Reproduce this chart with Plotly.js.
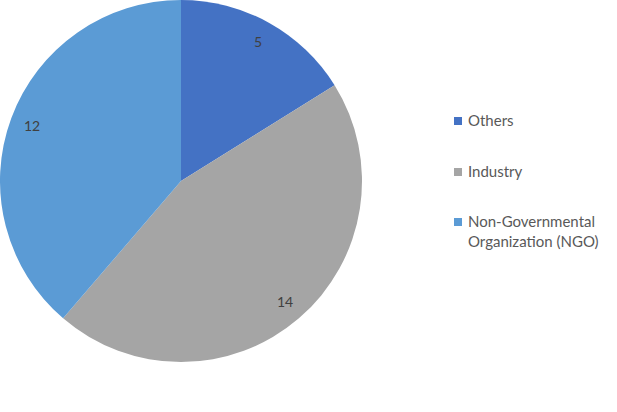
<!DOCTYPE html>
<html>
<head>
<meta charset="utf-8">
<script src="https://cdn.plot.ly/plotly-3.0.1.min.js"></script>
<style>
  html, body { margin: 0; padding: 0; background: #fff; }
  #chart { width: 617px; height: 412px; }
</style>
</head>
<body>
<div id="chart"></div>
<script>
var labels = ['Others', 'Industry', 'Non-Governmental<br>Organization (NGO)'];
var counts = [5, 14, 12];
var colors = ['#4472C4', '#A5A5A5', '#5B9BD5'];

// page size and where the pie sits (px)
var W = 617, H = 412;
var pieSize = 362;
var cx = pieSize / 2, cy = pieSize / 2;
var labelRadius = 0.88 * pieSize / 2;

// legend placement (px): square, text start, row centres
var legX = 454, legTextX = 466;
var legRows = [121, 172, 222];

var total = counts.reduce(function(a, b) { return a + b; }, 0);
var annotations = [];
var shapes = [];

// value labels near the rim, like Excel's best fit
var cum = 0;
counts.forEach(function(v) {
    var ang = (cum + v / 2) / total * 2 * Math.PI;
    cum += v;
    var px = cx + labelRadius * Math.sin(ang);
    var py = cy - labelRadius * Math.cos(ang);
    annotations.push({
        x: px / W, y: 1 - py / H, xref: 'paper', yref: 'paper',
        text: String(v), showarrow: false,
        xanchor: 'center', yanchor: 'middle',
        font: { family: 'Lato, sans-serif', size: 14, color: '#404040' }
    });
});

// hand-made legend, spaced out like the original
labels.forEach(function(lab, i) {
    var y = legRows[i];
    shapes.push({
        type: 'rect', xref: 'paper', yref: 'paper',
        x0: legX / W, x1: (legX + 8) / W,
        y0: 1 - (y + 4) / H, y1: 1 - (y - 4) / H,
        fillcolor: colors[i], line: { width: 0 }
    });
    annotations.push({
        x: legTextX / W, y: 1 - (y - 12) / H, xref: 'paper', yref: 'paper',
        text: lab, showarrow: false, align: 'left',
        xanchor: 'left', yanchor: 'top',
        font: { family: 'Lato, sans-serif', size: 15, color: '#595959' }
    });
});

var data = [{
    type: 'pie',
    labels: labels,
    values: counts,
    sort: false,
    direction: 'clockwise',
    rotation: 0,
    marker: { colors: colors, line: { width: 0 } },
    textinfo: 'none',
    domain: { x: [0, pieSize / W], y: [1 - pieSize / H, 1] },
    hoverinfo: 'label+value'
}];

var layout = {
    width: W,
    height: H,
    margin: { l: 0, r: 0, t: 0, b: 0 },
    paper_bgcolor: '#fff',
    showlegend: false,
    annotations: annotations,
    shapes: shapes
};

Plotly.newPlot('chart', data, layout, { displayModeBar: false });
</script>
</body>
</html>
